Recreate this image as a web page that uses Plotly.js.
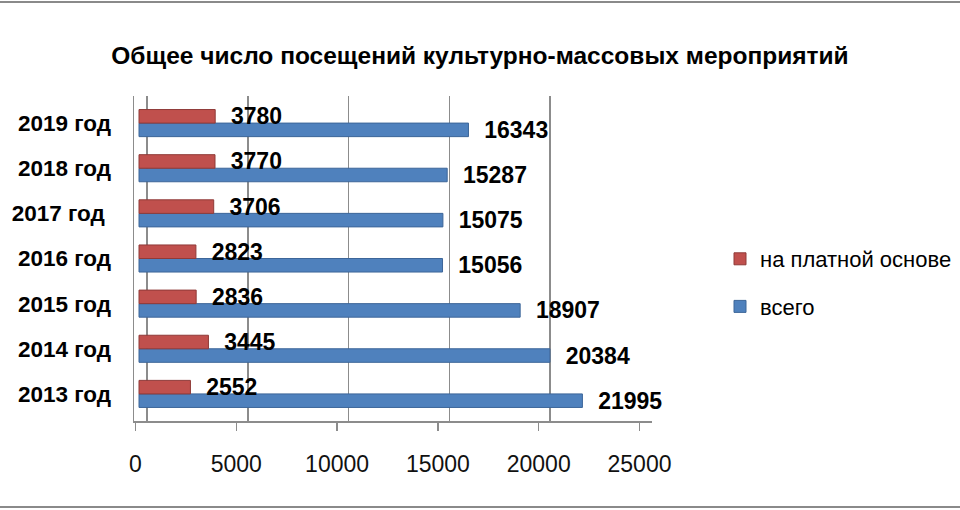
<!DOCTYPE html>
<html>
<head>
<meta charset="utf-8">
<script src="https://cdn.plot.ly/plotly-3.0.1.min.js"></script>
<style>
  html, body { margin: 0; padding: 0; background: #fff; }
  #wrap { position: relative; width: 960px; height: 510px; overflow: hidden; }
  #chart { position: absolute; left: 0; top: 0; width: 960px; height: 510px; }
  .hline { position: absolute; left: 0; width: 960px; height: 2px; background: #8a8a8a; }
</style>
</head>
<body>
<div id="wrap">
  <div id="chart"></div>
  <div class="hline" style="top:1px"></div>
  <div class="hline" style="top:506px"></div>
</div>
<script>
// ---- data ----
const categories = ['2013 год', '2014 год', '2015 год', '2016 год', '2017 год', '2018 год', '2019 год'];
const categoryLabels = ['2013 год', '2014 год', '2015 год', '2016 год', '2017 год\u00a0', '2018 год', '2019 год'];
const paidValues  = [2552, 3445, 2836, 2823, 3706, 3770, 3780];
const totalValues = [21995, 20384, 18907, 15056, 15075, 15287, 16343];
const seriesNames = ['на платной основе', 'всего'];
const xTicks = [0, 5000, 10000, 15000, 20000, 25000];
const titleText = 'Общее число посещений культурно-массовых мероприятий';

// ---- style ----
const FONT = 'Liberation Sans, Arial, sans-serif';
const RED = '#C0504D';
const BLUE = '#4F81BD';
const GRID = '#8c8c8c';

const labelFont = {family: FONT, size: 23, color: '#000', weight: 'bold'};

const traces = [
  {
    type: 'bar', orientation: 'h', name: seriesNames[1],
    y: categories, x: totalValues,
    marker: {color: BLUE, line: {color: '#3d6699', width: 1}},
    text: totalValues.map(String),
    texttemplate: '\u00a0\u00a0%{text}',
    textposition: 'outside', constraintext: 'none', cliponaxis: false,
    textfont: labelFont,
    legendgroup: 'b', legendrank: 2, hoverinfo: 'x+y'
  },
  {
    type: 'bar', orientation: 'h', name: seriesNames[0],
    y: categories, x: paidValues,
    marker: {color: RED, line: {color: '#8f3a38', width: 1}},
    text: paidValues.map(String),
    texttemplate: '\u00a0\u00a0%{text}',
    textposition: 'outside', constraintext: 'none', cliponaxis: false,
    textfont: labelFont,
    legendgroup: 'a', legendrank: 1, hoverinfo: 'x+y'
  },
  // invisible helpers so the overlay axes (tick labels, back-wall grid) are drawn
  {
    type: 'scatter', mode: 'none', xaxis: 'x2', yaxis: 'y',
    x: xTicks, y: xTicks.map(() => categories[0]),
    showlegend: false, hoverinfo: 'skip'
  },
  {
    type: 'scatter', mode: 'none', xaxis: 'x3', yaxis: 'y',
    x: xTicks, y: xTicks.map(() => categories[0]),
    showlegend: false, hoverinfo: 'skip'
  }
];

// pixel scale: 5000 units ~ 100.8 px
const L = 134, R = 652, T = 96, B = 421;
const pxPerUnit = 100.8 / 5000;
function rangeFor(zeroPx) { return [(L - zeroPx) / pxPerUnit, (R - zeroPx) / pxPerUnit]; }

const layout = {
  width: 960, height: 510,
  margin: {l: L, r: 960 - R, t: T, b: 510 - B, pad: 0, autoexpand: false},
  paper_bgcolor: '#fff', plot_bgcolor: 'rgba(0,0,0,0)',
  font: {family: FONT, color: '#000'},
  barmode: 'group', bargap: 0.4, bargroupgap: 0,
  title: {
    text: titleText,
    font: {family: FONT, size: 24.5, color: '#000', weight: 'bold'},
    x: 0.5, xref: 'container', xanchor: 'center',
    y: 1 - 55 / 510, yref: 'container', yanchor: 'middle'
  },
  xaxis: {
    range: rangeFor(139), showgrid: false, zeroline: false, showline: false,
    showticklabels: false, ticks: '', fixedrange: true, automargin: false
  },
  xaxis2: {
    overlaying: 'x', anchor: 'y', side: 'bottom', automargin: false,
    range: rangeFor(135.5), tickvals: xTicks, ticktext: xTicks.map(String),
    showgrid: false, zeroline: false, showline: true, linecolor: GRID, linewidth: 1.5,
    ticks: 'outside', ticklen: 8, tickcolor: GRID, tickwidth: 1.5,
    ticklabelstandoff: 14,
    tickfont: {family: FONT, size: 23, color: '#111'}
  },
  xaxis3: {
    overlaying: 'x', anchor: 'y', side: 'bottom', automargin: false,
    range: rangeFor(147), tickvals: xTicks,
    showgrid: true, gridcolor: GRID, gridwidth: 1.5,
    zeroline: false, showline: false, showticklabels: false, ticks: ''
  },
  yaxis: {
    type: 'category', categoryorder: 'array', categoryarray: categories,
    tickvals: categories, ticktext: categoryLabels, automargin: false,
    range: [-0.6, 6.6], showgrid: false, zeroline: false,
    showline: true, linecolor: GRID, linewidth: 1.5,
    ticks: '', ticklabelstandoff: 17,
    tickfont: {family: FONT, size: 22.5, color: '#000', weight: 'bold'}
  },
  showlegend: true,
  legend: {
    x: (720 - L) / (R - L), xanchor: 'left',
    y: (B - 238) / (B - T), yanchor: 'top',
    traceorder: 'grouped', tracegroupgap: 16,
    font: {family: FONT, size: 22, color: '#000'},
    bgcolor: 'rgba(0,0,0,0)', borderwidth: 0
  }
};

Plotly.newPlot('chart', traces, layout, {displayModeBar: false, staticPlot: true});
</script>
</body>
</html>
